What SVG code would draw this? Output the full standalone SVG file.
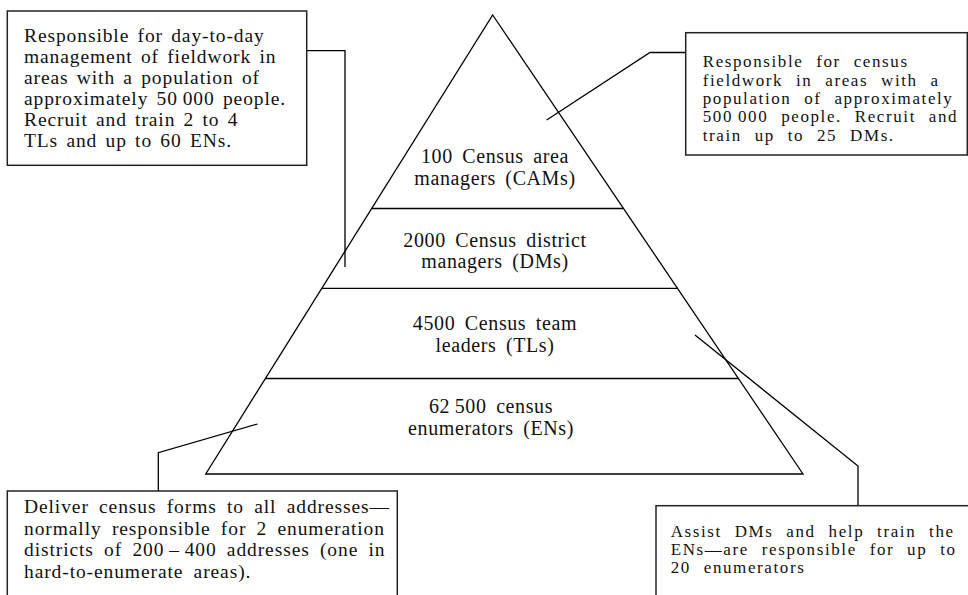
<svg xmlns="http://www.w3.org/2000/svg" width="968" height="595" viewBox="0 0 968 595">
<style>
.ln{fill:none;stroke:#000;stroke-width:1.3}
.bx{fill:#fff;stroke:#222;stroke-width:1.5}
.t{font-family:"Liberation Serif","Times New Roman",serif;fill:#111}
.b1{font-size:19.5px;letter-spacing:0.9px;word-spacing:2.5px}
.b3{font-size:19.5px;letter-spacing:0.9px;word-spacing:4.5px}
.sm{font-size:17px;letter-spacing:1.6px;word-spacing:7px}
.pl{font-size:20px;letter-spacing:0.6px;word-spacing:4px;text-anchor:middle}
</style>
<rect width="968" height="595" fill="#fff"/>
<g id="pyramid">
<polygon class="ln" points="492.7,15 803,474 205.7,474"/>
<line class="ln" x1="371.6" y1="208.5" x2="623.6" y2="208.5"/>
<line class="ln" x1="321.8" y1="288.3" x2="677.7" y2="288.3"/>
<line class="ln" x1="265.4" y1="378.5" x2="738.7" y2="378.5"/>
</g>
<g id="cams"><text class="t pl"><tspan x="495" y="163">100 Census area</tspan><tspan x="495" y="184.5">managers (CAMs)</tspan></text></g>
<g id="dms"><text class="t pl"><tspan x="495" y="246.7">2000 Census district</tspan><tspan x="495" y="268.3">managers (DMs)</tspan></text></g>
<g id="tls"><text class="t pl"><tspan x="495" y="330">4500 Census team</tspan><tspan x="495" y="351.7">leaders (TLs)</tspan></text></g>
<g id="ens"><text class="t pl"><tspan x="491" y="413.3">62&#8201;500 census</tspan><tspan x="491" y="435">enumerators (ENs)</tspan></text></g>
<g id="connectors">
<polyline class="ln" points="307,50.7 345,50.7 345,267"/>
<polyline class="ln" points="686,52.5 650,52.5 546.7,120"/>
<polyline class="ln" points="158.3,491 158.3,452.7 257.5,424"/>
<polyline class="ln" points="858,506 858,466 695,335"/>
</g>
<g id="box-dm">
<rect class="bx" x="7.3" y="11" width="299.4" height="154.3"/>
<text class="t b1"><tspan x="24" y="41.7">Responsible for day-to-day</tspan><tspan x="24" y="62.7">management of fieldwork in</tspan><tspan x="24" y="83.7">areas with a population of</tspan><tspan x="24" y="104.5">approximately 50&#8201;000 people.</tspan><tspan x="24" y="125.5">Recruit and train 2 to 4</tspan><tspan x="24" y="146.7">TLs and up to 60 ENs.</tspan></text>
</g>
<g id="box-cam">
<rect class="bx" x="685.7" y="32.7" width="281.6" height="122.3"/>
<text class="t sm"><tspan x="702.7" y="67.3">Responsible for census</tspan><tspan x="702.7" y="85.7">fieldwork in areas with a</tspan><tspan x="702.7" y="104">population of approximately</tspan><tspan x="702.7" y="122.3">500&#8201;000 people. Recruit and</tspan><tspan x="702.7" y="140.7">train up to 25 DMs.</tspan></text>
</g>
<g id="box-en">
<rect class="bx" x="7.3" y="491" width="390" height="110"/>
<text class="t b3"><tspan x="24" y="513.3">Deliver census forms to all addresses—</tspan><tspan x="24" y="535">normally responsible for 2 enumeration</tspan><tspan x="24" y="556.3">districts of 200&#8201;–&#8201;400 addresses (one in</tspan><tspan x="24" y="577.5">hard-to-enumerate areas).</tspan></text>
</g>
<g id="box-tl">
<rect class="bx" x="656" y="505.7" width="320" height="100"/>
<text class="t sm"><tspan x="670.7" y="536.7">Assist DMs and help train the</tspan><tspan x="670.7" y="555">ENs—are responsible for up to</tspan><tspan x="670.7" y="573.3">20 enumerators</tspan></text>
</g>
</svg>
